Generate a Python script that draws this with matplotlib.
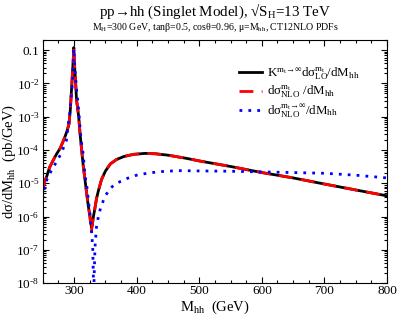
import numpy as np
import matplotlib
matplotlib.use('Agg')
import matplotlib.pyplot as plt
from matplotlib.ticker import MultipleLocator, LogLocator, FuncFormatter, NullFormatter

plt.rcParams['font.family'] = ['Liberation Serif', 'DejaVu Serif']
plt.rcParams['mathtext.fontset'] = 'custom'
plt.rcParams['mathtext.rm'] = 'Liberation Serif'
plt.rcParams['mathtext.it'] = 'Liberation Serif:italic'
plt.rcParams['mathtext.bf'] = 'Liberation Serif:bold'

# K * LO (mt -> inf) curve
m_lo = [250, 253, 256.4, 261, 267, 272, 277.6, 282, 285.6, 289, 292, 294, 295.7,
        297.5, 299, 299.7, 300.5, 301.5, 302.7, 304, 305.5, 307.5, 309.6, 312,
        314.9, 317.5, 320.2, 323, 325.5, 327, 328.2, 329.5, 331, 333, 336, 339,
        344, 350, 358, 368, 380, 395, 413, 430, 450, 480, 500, 550, 600, 650,
        700, 750, 800]
s_lo = [6e-6, 1.1e-5, 1.6e-5, 3e-5, 5e-5, 7.5e-5, 1.1e-4, 1.7e-4, 2.5e-4, 3.8e-4,
        6e-4, 1.5e-3, 5e-3, 2e-2, 6e-2, 0.12, 5e-2, 2.2e-2, 1e-2, 3.2e-3, 2e-3,
        1e-3, 3.2e-4, 1.1e-4, 3.2e-5, 1.3e-5, 5e-6, 2e-6, 1e-6, 6e-7, 4.5e-7,
        6e-7, 1e-6, 1.6e-6, 3.5e-6, 6e-6, 1.3e-5, 2.3e-5, 3.8e-5, 5.2e-5, 6.4e-5,
        7.4e-5, 7.9e-5, 7.7e-5, 7e-5, 5.6e-5, 4.7e-5, 3.2e-5, 2.1e-5, 1.45e-5,
        9.5e-6, 6.3e-6, 4.2e-6]

# full NLO (finite mt)
m_nlo = [250, 253, 256.4, 261, 267, 272, 277.6, 282, 285.6, 289, 292, 294, 295.7,
         297.5, 299, 299.7, 300.5, 301.5, 302.7, 304, 305.5, 307.5, 309.6, 312,
         314.9, 317.5, 320.2, 323, 325.5, 326.8, 327.8, 329, 331, 333, 336, 339,
         344, 350, 358, 368, 380, 395, 413, 430, 450, 480, 500, 550, 600, 650,
         700, 750, 800]
s_nlo = [6e-6, 1.1e-5, 1.6e-5, 3e-5, 5e-5, 7.5e-5, 1.1e-4, 1.7e-4, 2.5e-4, 3.8e-4,
         6e-4, 1.5e-3, 5e-3, 2e-2, 6e-2, 0.12, 5e-2, 2.2e-2, 1e-2, 3.2e-3, 2e-3,
         1e-3, 3.2e-4, 1.1e-4, 3.2e-5, 1.3e-5, 5e-6, 2e-6, 1e-6, 5e-7, 3.5e-7,
         5.5e-7, 1e-6, 1.6e-6, 3.5e-6, 6e-6, 1.3e-5, 2.3e-5, 3.8e-5, 5.2e-5, 6.4e-5,
         7.4e-5, 7.9e-5, 7.7e-5, 7e-5, 5.6e-5, 4.7e-5, 3.2e-5, 2.1e-5, 1.45e-5,
         9.5e-6, 6.3e-6, 4.2e-6]

# NLO in the mt -> inf limit
m_inf = [250, 253.7, 258, 264.4, 270, 275, 280, 284, 288, 291, 293.6, 295.5, 297.4,
         298.7, 299.7, 300.7, 302, 304, 306.5, 308.5, 310.6, 313, 315, 317.6, 320,
         323, 326, 328, 330, 331, 331.5, 332, 333.5, 336, 339, 343, 349.5, 357.5,
         368, 385, 400, 420, 440, 466, 500, 550, 600, 650, 700, 750, 800]
s_inf = [3.5e-6, 9e-6, 1.5e-5, 2.5e-5, 3.8e-5, 5.6e-5, 8e-5, 1.3e-4, 2e-4, 6.3e-4,
         1.4e-3, 4e-3, 9e-3, 3e-2, 0.11, 5e-2, 2e-2, 7e-3, 2.5e-3, 9e-4, 2.8e-4,
         1.2e-4, 7e-5, 1.6e-5, 1e-5, 3e-6, 1e-6, 4e-7, 1e-7, 1.3e-8, 3e-9, 1.2e-8,
         1.2e-7, 5e-7, 1e-6, 2e-6, 4e-6, 7e-6, 1e-5, 1.4e-5, 1.75e-5, 2.05e-5,
         2.25e-5, 2.4e-5, 2.35e-5, 2.3e-5, 2.2e-5, 2.1e-5, 2e-5, 1.75e-5, 1.45e-5]

lbl_lo = r'K$^{\mathrm{m_t}→∞}$dσ$^{\mathrm{m_t}}_{\mathrm{LO}}$/dM$_{\mathrm{hh}}$'
lbl_nlo = r'dσ$^{\mathrm{m_t}}_{\mathrm{NLO}}$ /dM$_{\mathrm{hh}}$'
lbl_inf = r'dσ$^{\mathrm{m_t}→∞}_{\mathrm{NLO}}$/dM$_{\mathrm{hh}}$'

fig = plt.figure(figsize=(3.99, 3.16), dpi=100)
ax = fig.add_axes([0.107, 0.104, 0.863, 0.769])

ax.plot(m_lo, s_lo, color='black', lw=2.0, label=lbl_lo)
ax.plot(m_nlo, s_nlo, color='red', lw=2.0, dashes=(5, 3), label=lbl_nlo)
ax.plot(m_inf, s_inf, color='blue', lw=2.0, linestyle=(0, (1, 2.2)), label=lbl_inf)

ax.set_yscale('log')
ax.set_xlim(250, 800)
ax.set_ylim(1e-8, 0.2)

ax.xaxis.set_major_locator(MultipleLocator(100))
ax.xaxis.set_minor_locator(MultipleLocator(25))
ax.yaxis.set_major_locator(LogLocator(base=10, numticks=20))
ax.yaxis.set_minor_locator(LogLocator(base=10, subs=np.arange(2, 10), numticks=20))
ax.yaxis.set_minor_formatter(NullFormatter())


def yfmt(v, pos):
    e = int(round(np.log10(v)))
    if e == -1:
        return '0.1'
    return r'10$^{\text{%d}}$' % e


ax.yaxis.set_major_formatter(FuncFormatter(yfmt))
ax.xaxis.set_major_formatter(FuncFormatter(lambda v, p: '%d' % v if v >= 300 else ''))

ax.tick_params(which='both', direction='in', top=True, right=True, labelsize=9.5, width=0.8)
ax.tick_params(which='major', length=4.5)
ax.tick_params(which='minor', length=2.5)
ax.tick_params(axis='x', pad=1)
ax.tick_params(axis='y', pad=2.5)
for sp in ax.spines.values():
    sp.set_linewidth(0.8)

ax.set_xlabel(r'M$_{\mathrm{hh}}$  (GeV)', fontsize=10.5)
ax.xaxis.set_label_coords(0.5, -0.065)
ax.set_ylabel(r'dσ/dM$_{\mathrm{hh}}$  (pb/GeV)', fontsize=10.5)
ax.yaxis.set_label_coords(-0.072, 0.5)

fig.text(0.54, 0.963, r'pp→hh (Singlet Model), √S$_{\mathrm{H}}$=13 TeV',
         ha='center', va='center', fontsize=10.8)
fig.text(0.54, 0.912, r'M$_{\mathrm{H}}$=300 GeV, tanβ=0.5, cosθ=0.96, μ=M$_{\mathrm{hh}}$, CT12NLO PDFs',
         ha='center', va='center', fontsize=7.1)

ax.legend(loc='upper left', bbox_to_anchor=(0.585, 0.81), bbox_transform=fig.transFigure,
          frameon=False, fontsize=9.3, handlelength=1.8, handletextpad=0.4,
          labelspacing=0.15, borderaxespad=0)

fig.savefig('out.png', dpi=100)
